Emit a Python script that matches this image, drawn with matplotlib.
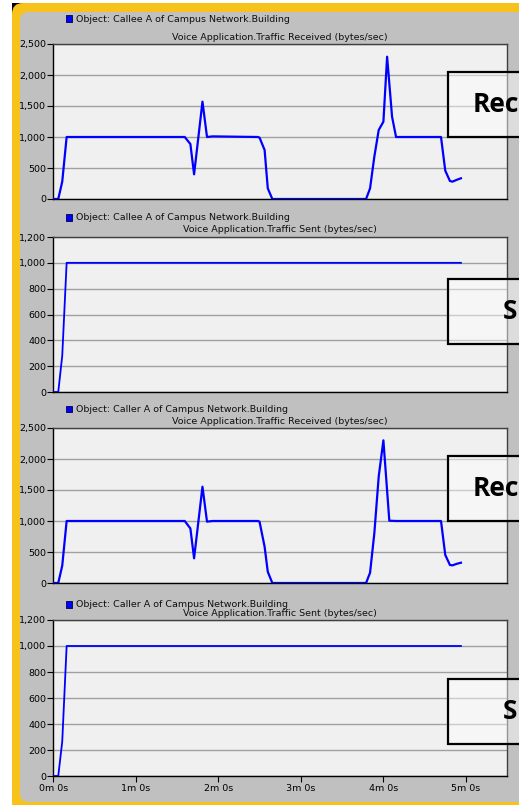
import matplotlib
matplotlib.use("Agg")
import matplotlib.pyplot as plt
from matplotlib.patches import Rectangle, FancyBboxPatch
from matplotlib.transforms import Affine2D

plt.rcParams['font.family'] = ['Liberation Sans Narrow', 'DejaVu Sans']

# ---------------- data ----------------
# time in seconds, traffic in bytes/sec
callee_recv_t = [0, 3.6, 6.5, 9.7, 95.6, 99.7, 102.4, 108.5, 111.8, 116, 148.8, 150,
                 153.7, 156, 159.3, 227.5, 230.4, 233.5, 236.7, 240.1, 242.8, 246.4,
                 249.3, 282, 285.1, 288.5, 290.4, 293.5, 296.5]
callee_recv_v = [0, 0, 279, 1000, 1000, 887, 398, 1570, 1000, 1010, 1000, 990,
                 790, 172, 0, 0, 172, 682, 1113, 1247, 2295, 1327,
                 1000, 1000, 457, 290, 280, 310, 334]

callee_sent_t = [0, 3.6, 6.5, 9.7, 296.5]
callee_sent_v = [0, 0, 280, 1000, 1000]

caller_recv_t = [0, 3.6, 6.5, 9.7, 95.6, 99.7, 102.4, 108.5, 111.8, 116, 148.8, 150,
                 153.7, 156, 159.3, 227.5, 230.4, 233.5, 236.7, 240.1, 244.4, 249.3,
                 282, 285.1, 288.5, 290.4, 293.5, 296.5]
caller_recv_v = [0, 0, 279, 1000, 1000, 880, 398, 1553, 990, 1000, 1000, 990,
                 585, 181, 0, 0, 166, 801, 1720, 2301, 1005, 1000,
                 1000, 452, 290, 285, 310, 327]

caller_sent_t = [0, 3.6, 6.5, 9.7, 296.5]
caller_sent_v = [0, 0, 265, 1000, 1000]

x_ticks = [0, 60, 120, 180, 240, 300]
x_tick_labels = ["0m 0s", "1m 0s", "2m 0s", "3m 0s", "4m 0s", "5m 0s"]
recv_ticks = [0, 500, 1000, 1500, 2000, 2500]
recv_labels = ["0", "500", "1,000", "1,500", "2,000", "2,500"]
sent_ticks = [0, 200, 400, 600, 800, 1000, 1200]
sent_labels = ["0", "200", "400", "600", "800", "1,000", "1,200"]

legend_texts = ["Object: Callee A of Campus Network.Building",
                "Object: Callee A of Campus Network.Building",
                "Object: Caller A of Campus Network.Building",
                "Object: Caller A of Campus Network.Building"]
titles = ["Voice Application.Traffic Received (bytes/sec)",
          "Voice Application.Traffic Sent (bytes/sec)",
          "Voice Application.Traffic Received (bytes/sec)",
          "Voice Application.Traffic Sent (bytes/sec)"]
box_texts = ["Rec", "S", "Rec", "S"]

# ---------------- layout ----------------
W, H = 519, 805
fig = plt.figure(figsize=(W / 100, H / 100), dpi=100, facecolor='white')
pxT = Affine2D().scale(1.0 / W, 1.0 / H) + fig.transFigure


def yb(y):
    return H - y


YELLOW = '#f8c21c'
GRAY = '#c0c0c0'
# background frame
fig.add_artist(Rectangle((12, yb(20)), 20, 17, transform=pxT, fc='black', ec='none', zorder=-30))
fig.add_artist(FancyBboxPatch((12, yb(830)), 560, 827, boxstyle="round,pad=0,rounding_size=11",
                              transform=pxT, fc=YELLOW, ec='none', zorder=-20))
fig.add_artist(FancyBboxPatch((20, yb(802)), 560, 790, boxstyle="round,pad=0,rounding_size=9",
                              transform=pxT, fc=GRAY, ec='none', zorder=-10))

ax_left, ax_right = 53.3, 507
ax_tops = [44, 237, 428, 620]
ax_bots = [199, 392, 583, 776]
legend_y = [19, 218, 409.5, 604.5]
title_y = [37, 229, 421, 613.5]
box_tops = [71.7, 279, 455.7, 679]
box_text_x = [473, 503, 473, 503]

series = [(callee_recv_t, callee_recv_v, recv_ticks, recv_labels, 2500),
          (callee_sent_t, callee_sent_v, sent_ticks, sent_labels, 1200),
          (caller_recv_t, caller_recv_v, recv_ticks, recv_labels, 2500),
          (caller_sent_t, caller_sent_v, sent_ticks, sent_labels, 1200)]

for i, (t, v, yt, yl, ymax) in enumerate(series):
    ax = fig.add_axes([ax_left / W, 1 - ax_bots[i] / H, (ax_right - ax_left) / W,
                       (ax_bots[i] - ax_tops[i]) / H])
    ax.set_facecolor('#f0f0f0')
    ax.plot(t, v, color='#0000ff', lw=1.6 if ymax > 2000 else 1.3, solid_joinstyle='round', zorder=3)
    ax.set_xlim(0, 330)
    ax.set_ylim(0, ymax)
    ax.set_yticks(yt)
    ax.set_yticklabels(yl)
    ax.grid(axis='y', color='#a0a0a0', lw=1.0, zorder=1)
    ax.tick_params(axis='y', length=4, width=0.8, pad=1, labelsize=6.8, colors='black')
    if i == 3:
        ax.set_xticks(x_ticks)
        ax.set_xticklabels(x_tick_labels)
        ax.tick_params(axis='x', length=4, width=0.8, pad=2, labelsize=6.8)
    else:
        ax.set_xticks([])
    for s in ['left', 'bottom']:
        ax.spines[s].set_color('black')
        ax.spines[s].set_linewidth(1.0)
    for s in ['top', 'right']:
        ax.spines[s].set_color('#404040')
        ax.spines[s].set_linewidth(1.0)

    # legend square + text
    fig.add_artist(Rectangle((65.5, yb(legend_y[i] + 3)), 6.5, 6.5, transform=pxT,
                             fc='#0000ff', ec='#000040', lw=0.6, zorder=5))
    fig.text(76 / W, 1 - legend_y[i] / H, legend_texts[i], fontsize=6.8, va='center',
             ha='left', color='#101010')
    fig.text((ax_left + ax_right) / 2 / W, 1 - title_y[i] / H, titles[i], fontsize=6.8,
             va='center', ha='center', color='#101010')

    # overlay box
    fig.add_artist(Rectangle((447.7, yb(box_tops[i] + 65)), 120, 65, transform=pxT,
                             fc=(1, 1, 1, 0.45), ec='black', lw=1.6, zorder=10))
    fig.text(box_text_x[i] / W, 1 - (box_tops[i] + 32.5) / H, box_texts[i],
             fontsize=19, fontweight='bold', family=['Open Sans', 'DejaVu Sans'],
             va='center', ha='left', color='black', zorder=11)

fig.savefig('out.png', dpi=100, facecolor='white')
